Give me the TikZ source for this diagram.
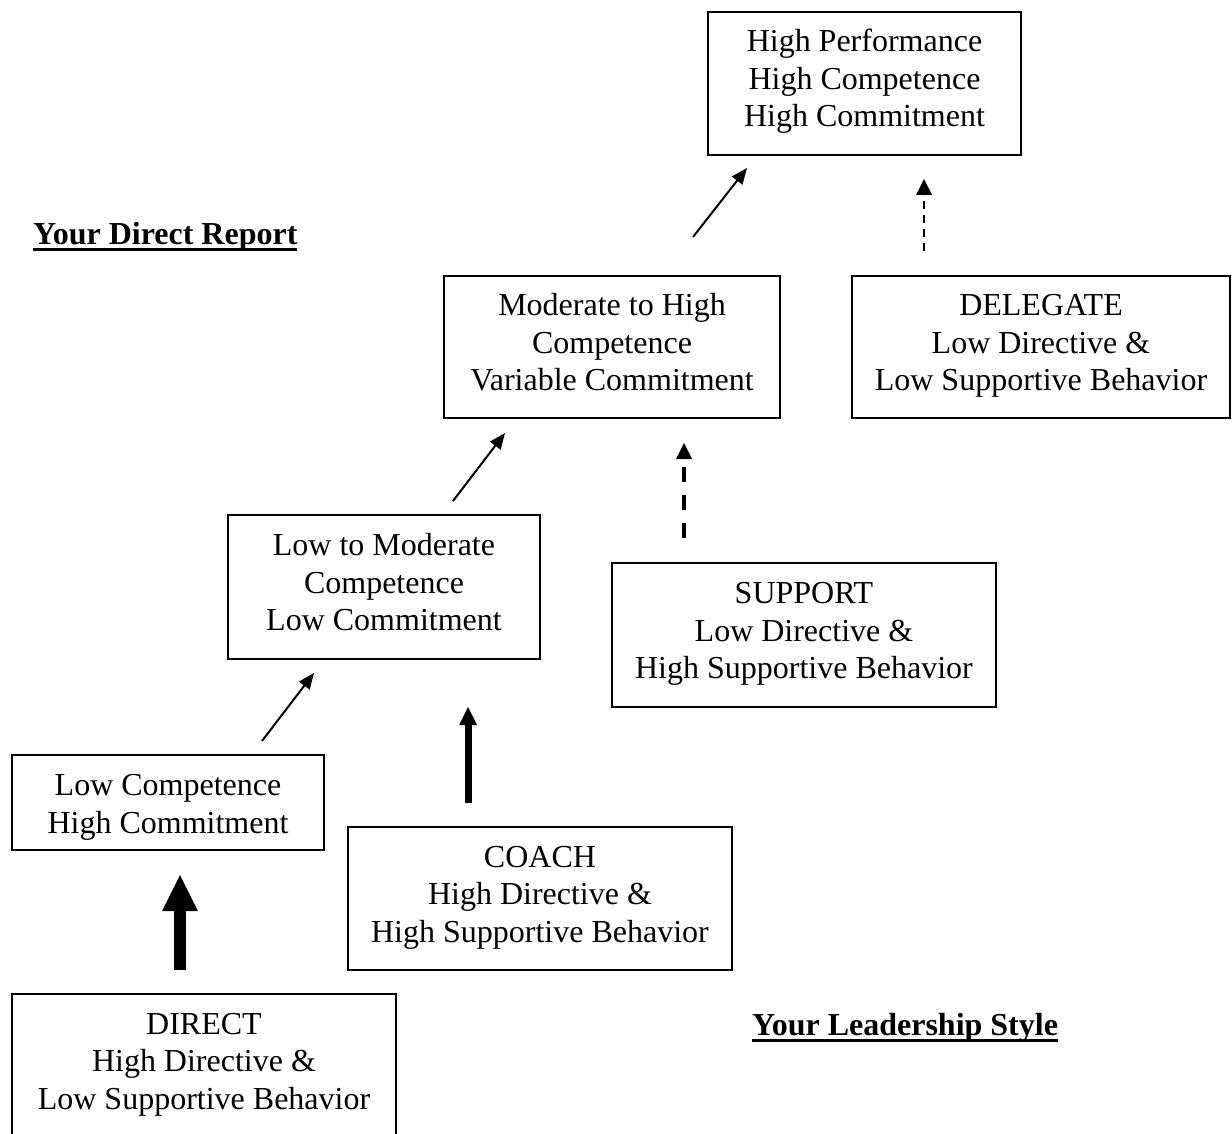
\documentclass[tikz,border=0pt]{standalone}
\usepackage{fontspec}
\setmainfont{Liberation Serif}
\usetikzlibrary{arrows.meta}
\newcommand\myul[1]{\setbox0\hbox{#1}\rlap{\rule[-7pt]{\wd0}{3pt}}\box0}
\newcommand\mylines[1]{\begin{tabular}{@{}c@{}}#1\end{tabular}}
\newcommand\upl[1]{\raisebox{1.5pt}[\height][\depth]{\mylines{#1}}}
\newcommand\dnl[1]{\raisebox{-4.5pt}[\height][\depth]{\mylines{#1}}}
\begin{document}
\begin{tikzpicture}[x=1pt,y=-1pt,
  box/.style={draw, line width=2pt, inner sep=0pt, font=\fontsize{32}{37.5}\selectfont},
  lbl/.style={inner sep=0pt, font=\fontsize{32}{37.5}\selectfont\bfseries},
  thinarr/.style={line width=2pt, -{Triangle[length=16pt,width=13pt]}},
  thickarr/.style={line width=12pt, -{Triangle[length=36pt,width=36pt,line width=0pt]}},
  medarr/.style={line width=7pt, -{Triangle[length=18pt,width=18pt,line width=0pt]}},
  dasharr/.style={line width=4pt, dash pattern=on 15pt off 13pt, -{Triangle[length=16pt,width=16pt,line width=0pt]}},
  dotarr/.style={line width=2.5pt, dash pattern=on 8pt off 6pt, -{Triangle[length=16pt,width=16pt,line width=0pt]}}]
\useasboundingbox (0,0) rectangle (1232,1134);
\clip (0,0) rectangle (1232,1134);

\node[box, minimum width=313pt, minimum height=143pt] (hp) at (864.5,83.5)
  {\upl{High Performance\\High Competence\\High Commitment}};
\node[box, minimum width=336pt, minimum height=142pt] (mh) at (612,347)
  {\upl{Moderate to High\\Competence\\Variable Commitment}};
\node[box, minimum width=378pt, minimum height=142pt] (del) at (1041,347)
  {\upl{DELEGATE\\Low Directive \&\\Low Supportive Behavior}};
\node[box, minimum width=312pt, minimum height=144pt] (lm) at (384,587)
  {\upl{Low to Moderate\\Competence\\Low Commitment}};
\node[box, minimum width=384pt, minimum height=144pt] (sup) at (804,635)
  {\upl{SUPPORT\\Low Directive \&\\High Supportive Behavior}};
\node[box, minimum width=312pt, minimum height=95pt] (lc) at (168,802.5)
  {\dnl{Low Competence\\High Commitment}};
\node[box, minimum width=384pt, minimum height=143pt] (coach) at (540,898.5)
  {\upl{COACH\\High Directive \&\\High Supportive Behavior}};
\node[box, minimum width=384pt, minimum height=143pt] (dir) at (204,1065.5)
  {\upl{DIRECT\\High Directive \&\\Low Supportive Behavior}};

\node[lbl, anchor=base west] (ydr) at (33,244) {\myul{Your Direct Report}};
\node[lbl, anchor=base west] (yls) at (752,1035) {\myul{Your Leadership Style}};

\coordinate (c1s) at (180,970);  \coordinate (c1e) at (180,875);
\coordinate (c2s) at (468,803);  \coordinate (c2e) at (468,707);
\coordinate (c3s) at (684,538);  \coordinate (c3e) at (684,443);
\coordinate (c4s) at (924,251);  \coordinate (c4e) at (924,179);
\coordinate (d1s) at (262,741);  \coordinate (d1e) at (314,673);
\coordinate (d2s) at (453,501);  \coordinate (d2e) at (505,433);
\coordinate (d3s) at (693,237);  \coordinate (d3e) at (747,168);

\draw[thickarr] (c1s) -- (c1e);
\draw[medarr] (c2s) -- (c2e);
\draw[dasharr] (c3s) -- (c3e);
\draw[dotarr] (c4s) -- (c4e);
\draw[thinarr] (d1s) -- (d1e);
\draw[thinarr] (d2s) -- (d2e);
\draw[thinarr] (d3s) -- (d3e);
\end{tikzpicture}
\end{document}
